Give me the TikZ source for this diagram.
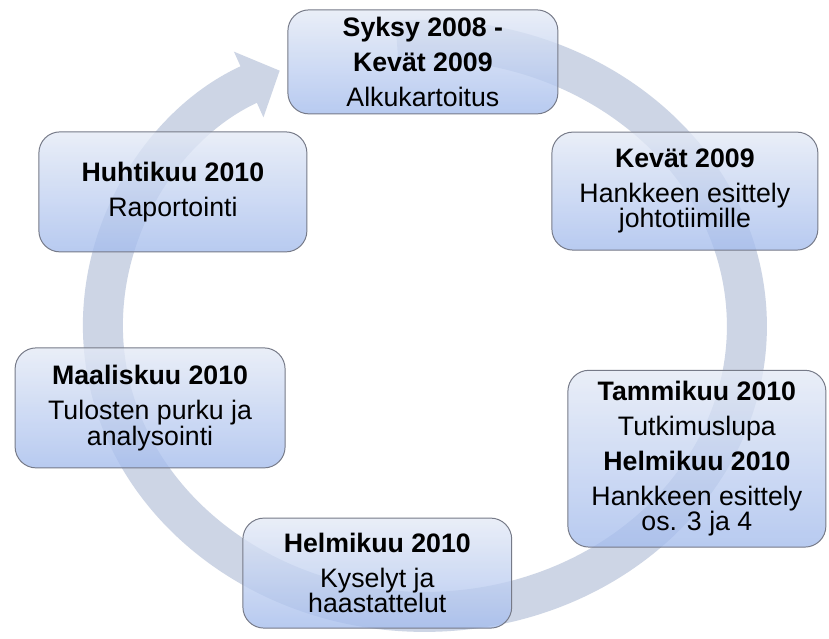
\documentclass[tikz,border=0pt]{standalone}
\usepackage{fontspec}
\setmainfont{Liberation Sans}
\usetikzlibrary{arrows.meta,calc}
\definecolor{ringfill}{RGB}{205,213,229}
\definecolor{boxtop}{RGB}{228,234,246}
\definecolor{boxbottom}{RGB}{164,188,237}
\definecolor{boxborder}{RGB}{118,122,136}

\begin{document}
\begin{tikzpicture}[
    stepbox/.style={draw=boxborder, line width=0.7pt, rounded corners=15pt,
        top color=boxtop, bottom color=boxbottom, fill opacity=0.78, text opacity=1,
        align=center, inner sep=0pt, font=\fontsize{19}{18}\selectfont}
]

% Canvas
\fill[white] (-10.3625,-7.9875) rectangle (10.3625,7.9875);
\useasboundingbox (-10.3625,-7.9875) rectangle (10.3625,7.9875);

% Cycle ring (drawn first, boxes sit on top)
\coordinate (ringc) at (0.26,-0.16);
\draw[ringfill, line width=1cm, -{Triangle[length=0.85cm, width=1.75cm]}]
    ($(ringc)+(95:8.05cm and 7.15cm)$)
    arc[start angle=95, end angle=-243.2, x radius=8.05cm, y radius=7.15cm];

% Steps
\node[stepbox, minimum width=6.75cm, minimum height=2.6cm] (autumn) at (0.21, 6.44) {
    \textbf{Syksy 2008 -}\\[7pt]
    \textbf{Kevät 2009}\\[7pt]
    Alkukartoitus
};

\node[stepbox, minimum width=6.65cm, minimum height=2.95cm] (spring) at (6.76, 3.21) {
    \textbf{Kevät 2009}\\[7pt]
    Hankkeen esittely\\
    johtotiimille
};

\node[stepbox, minimum width=6.45cm, minimum height=4.42cm] (january) at (7.06, -3.48) {
    \textbf{Tammikuu 2010}\\[7pt]
    Tutkimuslupa\\[7pt]
    \textbf{Helmikuu 2010}\\[7pt]
    Hankkeen esittely\\
    os. 3 ja 4
};

\node[stepbox, minimum width=6.72cm, minimum height=2.75cm] (february) at (-0.93, -6.34) {
    \textbf{Helmikuu 2010}\\[7pt]
    Kyselyt ja\\
    haastattelut
};

\node[stepbox, minimum width=6.75cm, minimum height=3.0cm] (march) at (-6.61, -2.21) {
    \textbf{Maaliskuu 2010}\\[7pt]
    Tulosten purku ja\\
    analysointi
};

\node[stepbox, minimum width=6.7cm, minimum height=3.0cm] (april) at (-6.04, 3.19) {
    \textbf{Huhtikuu 2010}\\[7pt]
    Raportointi
};

\end{tikzpicture}
\end{document}
